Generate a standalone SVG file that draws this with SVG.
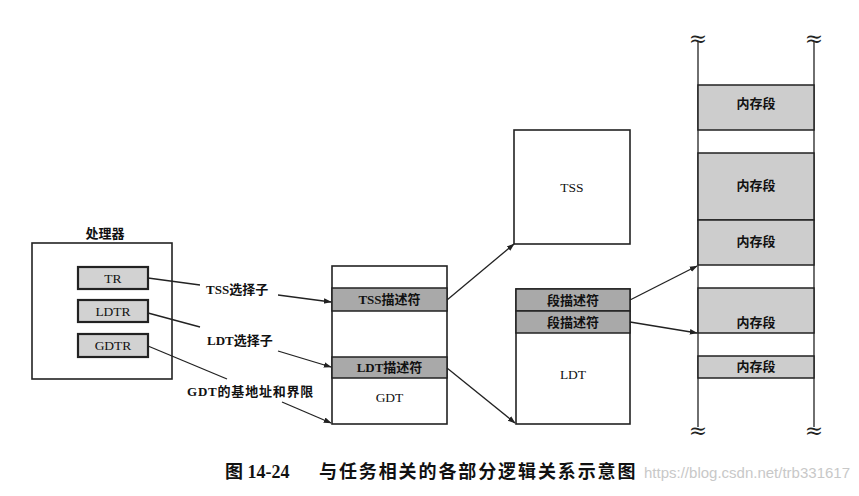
<svg xmlns="http://www.w3.org/2000/svg" width="859" height="496" viewBox="0 0 859 496">
<style>
.ln{stroke:#222;stroke-width:1.3;fill:none}
.box{stroke:#222;stroke-width:1.6;fill:#fff}
.reg{stroke:#222;stroke-width:2.2;fill:#d2d2d2}
.desc{stroke:#222;stroke-width:1.5;fill:#a9a9a9}
.mem{stroke:#222;stroke-width:1.5;fill:#cdcdcd}
.t{font-family:"Liberation Serif","Noto Sans CJK SC",serif;font-size:13.5px;fill:#111;text-anchor:middle}
.c{font-family:"Liberation Serif","Noto Sans CJK SC",serif;font-size:13px;font-weight:bold;fill:#111}
.w{font-family:"DejaVu Serif",serif;font-size:22px;fill:#222;text-anchor:middle}
</style>
<defs>
<marker id="ah" viewBox="0 0 10 10" refX="9" refY="5" markerWidth="8" markerHeight="8" orient="auto" markerUnits="userSpaceOnUse">
<path d="M0,1.5 L10,5 L0,8.5 z" fill="#222"/>
</marker>
</defs>
<rect width="859" height="496" fill="#fff"/>

<g id="processor">
<text class="c" x="105" y="238" text-anchor="middle">处理器</text>
<rect class="box" x="32" y="243" width="140" height="136"/>
</g>
<g id="TR"><rect class="reg" x="78" y="267" width="70" height="22"/><text class="t" x="113" y="283">TR</text></g>
<g id="LDTR"><rect class="reg" x="78" y="300" width="70" height="22"/><text class="t" x="113" y="316">LDTR</text></g>
<g id="GDTR"><rect class="reg" x="78" y="334" width="70" height="23"/><text class="t" x="113" y="350">GDTR</text></g>

<g id="labels">
<text class="c" x="206" y="294">TSS选择子</text>
<text class="c" x="207" y="345">LDT选择子</text>
<text class="c" x="187" y="396" letter-spacing="0.8">GDT的基地址和界限</text>
</g>

<g id="GDT">
<rect class="box" x="332" y="266" width="115" height="158"/>
<rect class="desc" x="332" y="288" width="115" height="23"/>
<text class="c" x="389.5" y="304" text-anchor="middle">TSS描述符</text>
<rect class="desc" x="332" y="357" width="115" height="21"/>
<text class="c" x="389.5" y="372" text-anchor="middle">LDT描述符</text>
<text class="t" x="389.5" y="402">GDT</text>
</g>

<g id="TSS">
<rect class="box" x="514" y="130" width="116" height="114"/>
<text class="t" x="572" y="192">TSS</text>
</g>

<g id="LDT">
<rect class="box" x="516" y="289" width="114" height="135"/>
<rect class="desc" x="516" y="289" width="114" height="22"/>
<text class="c" x="573" y="305" text-anchor="middle">段描述符</text>
<rect class="desc" x="516" y="311" width="114" height="22"/>
<text class="c" x="573" y="327" text-anchor="middle">段描述符</text>
<text class="t" x="573" y="379">LDT</text>
</g>

<g id="memory">
<line class="ln" x1="698" y1="42" x2="698" y2="427"/>
<line class="ln" x1="814" y1="42" x2="814" y2="427"/>
<text class="w" x="698" y="46">≈</text>
<text class="w" x="814" y="46">≈</text>
<text class="w" x="698" y="438">≈</text>
<text class="w" x="814" y="438">≈</text>
<rect class="mem" x="698" y="85" width="116" height="45"/>
<text class="c" x="756" y="108" text-anchor="middle">内存段</text>
<rect class="mem" x="698" y="153" width="116" height="67"/>
<text class="c" x="756" y="190" text-anchor="middle">内存段</text>
<rect class="mem" x="698" y="220" width="116" height="45"/>
<text class="c" x="756" y="246" text-anchor="middle">内存段</text>
<rect class="mem" x="698" y="288" width="116" height="45"/>
<text class="c" x="756" y="327" text-anchor="middle">内存段</text>
<rect class="mem" x="698" y="356" width="116" height="22"/>
<text class="c" x="756" y="371" text-anchor="middle">内存段</text>
</g>

<g id="connectors">
<line class="ln" x1="148" y1="278" x2="200" y2="285"/>
<line class="ln" x1="148" y1="313" x2="200" y2="327"/>
<line class="ln" x1="148" y1="346" x2="227" y2="379"/>
<line class="ln" x1="278" y1="295" x2="331" y2="302" marker-end="url(#ah)"/>
<line class="ln" x1="278" y1="351" x2="331" y2="367" marker-end="url(#ah)"/>
<line class="ln" x1="282" y1="402" x2="331" y2="423" marker-end="url(#ah)"/>
<line class="ln" x1="447" y1="300" x2="514" y2="244" marker-end="url(#ah)"/>
<line class="ln" x1="447" y1="368" x2="515" y2="423" marker-end="url(#ah)"/>
<line class="ln" x1="630" y1="300" x2="697" y2="266" marker-end="url(#ah)"/>
<line class="ln" x1="630" y1="322" x2="697" y2="333" marker-end="url(#ah)"/>
</g>

<g id="caption">
<text x="225" y="478" font-family="Liberation Serif,Noto Sans CJK SC,serif" font-size="18" font-weight="bold" fill="#111">图 14-24</text>
<text x="319" y="478" font-family="Noto Sans CJK SC,sans-serif" font-size="18" font-weight="bold" letter-spacing="1.9" fill="#111">与任务相关的各部分逻辑关系示意图</text>
<text x="850" y="478" text-anchor="end" font-family="Liberation Sans,sans-serif" font-size="15" fill="#c8c8c8">https://blog.csdn.net/trb331617</text>
</g>
</svg>
